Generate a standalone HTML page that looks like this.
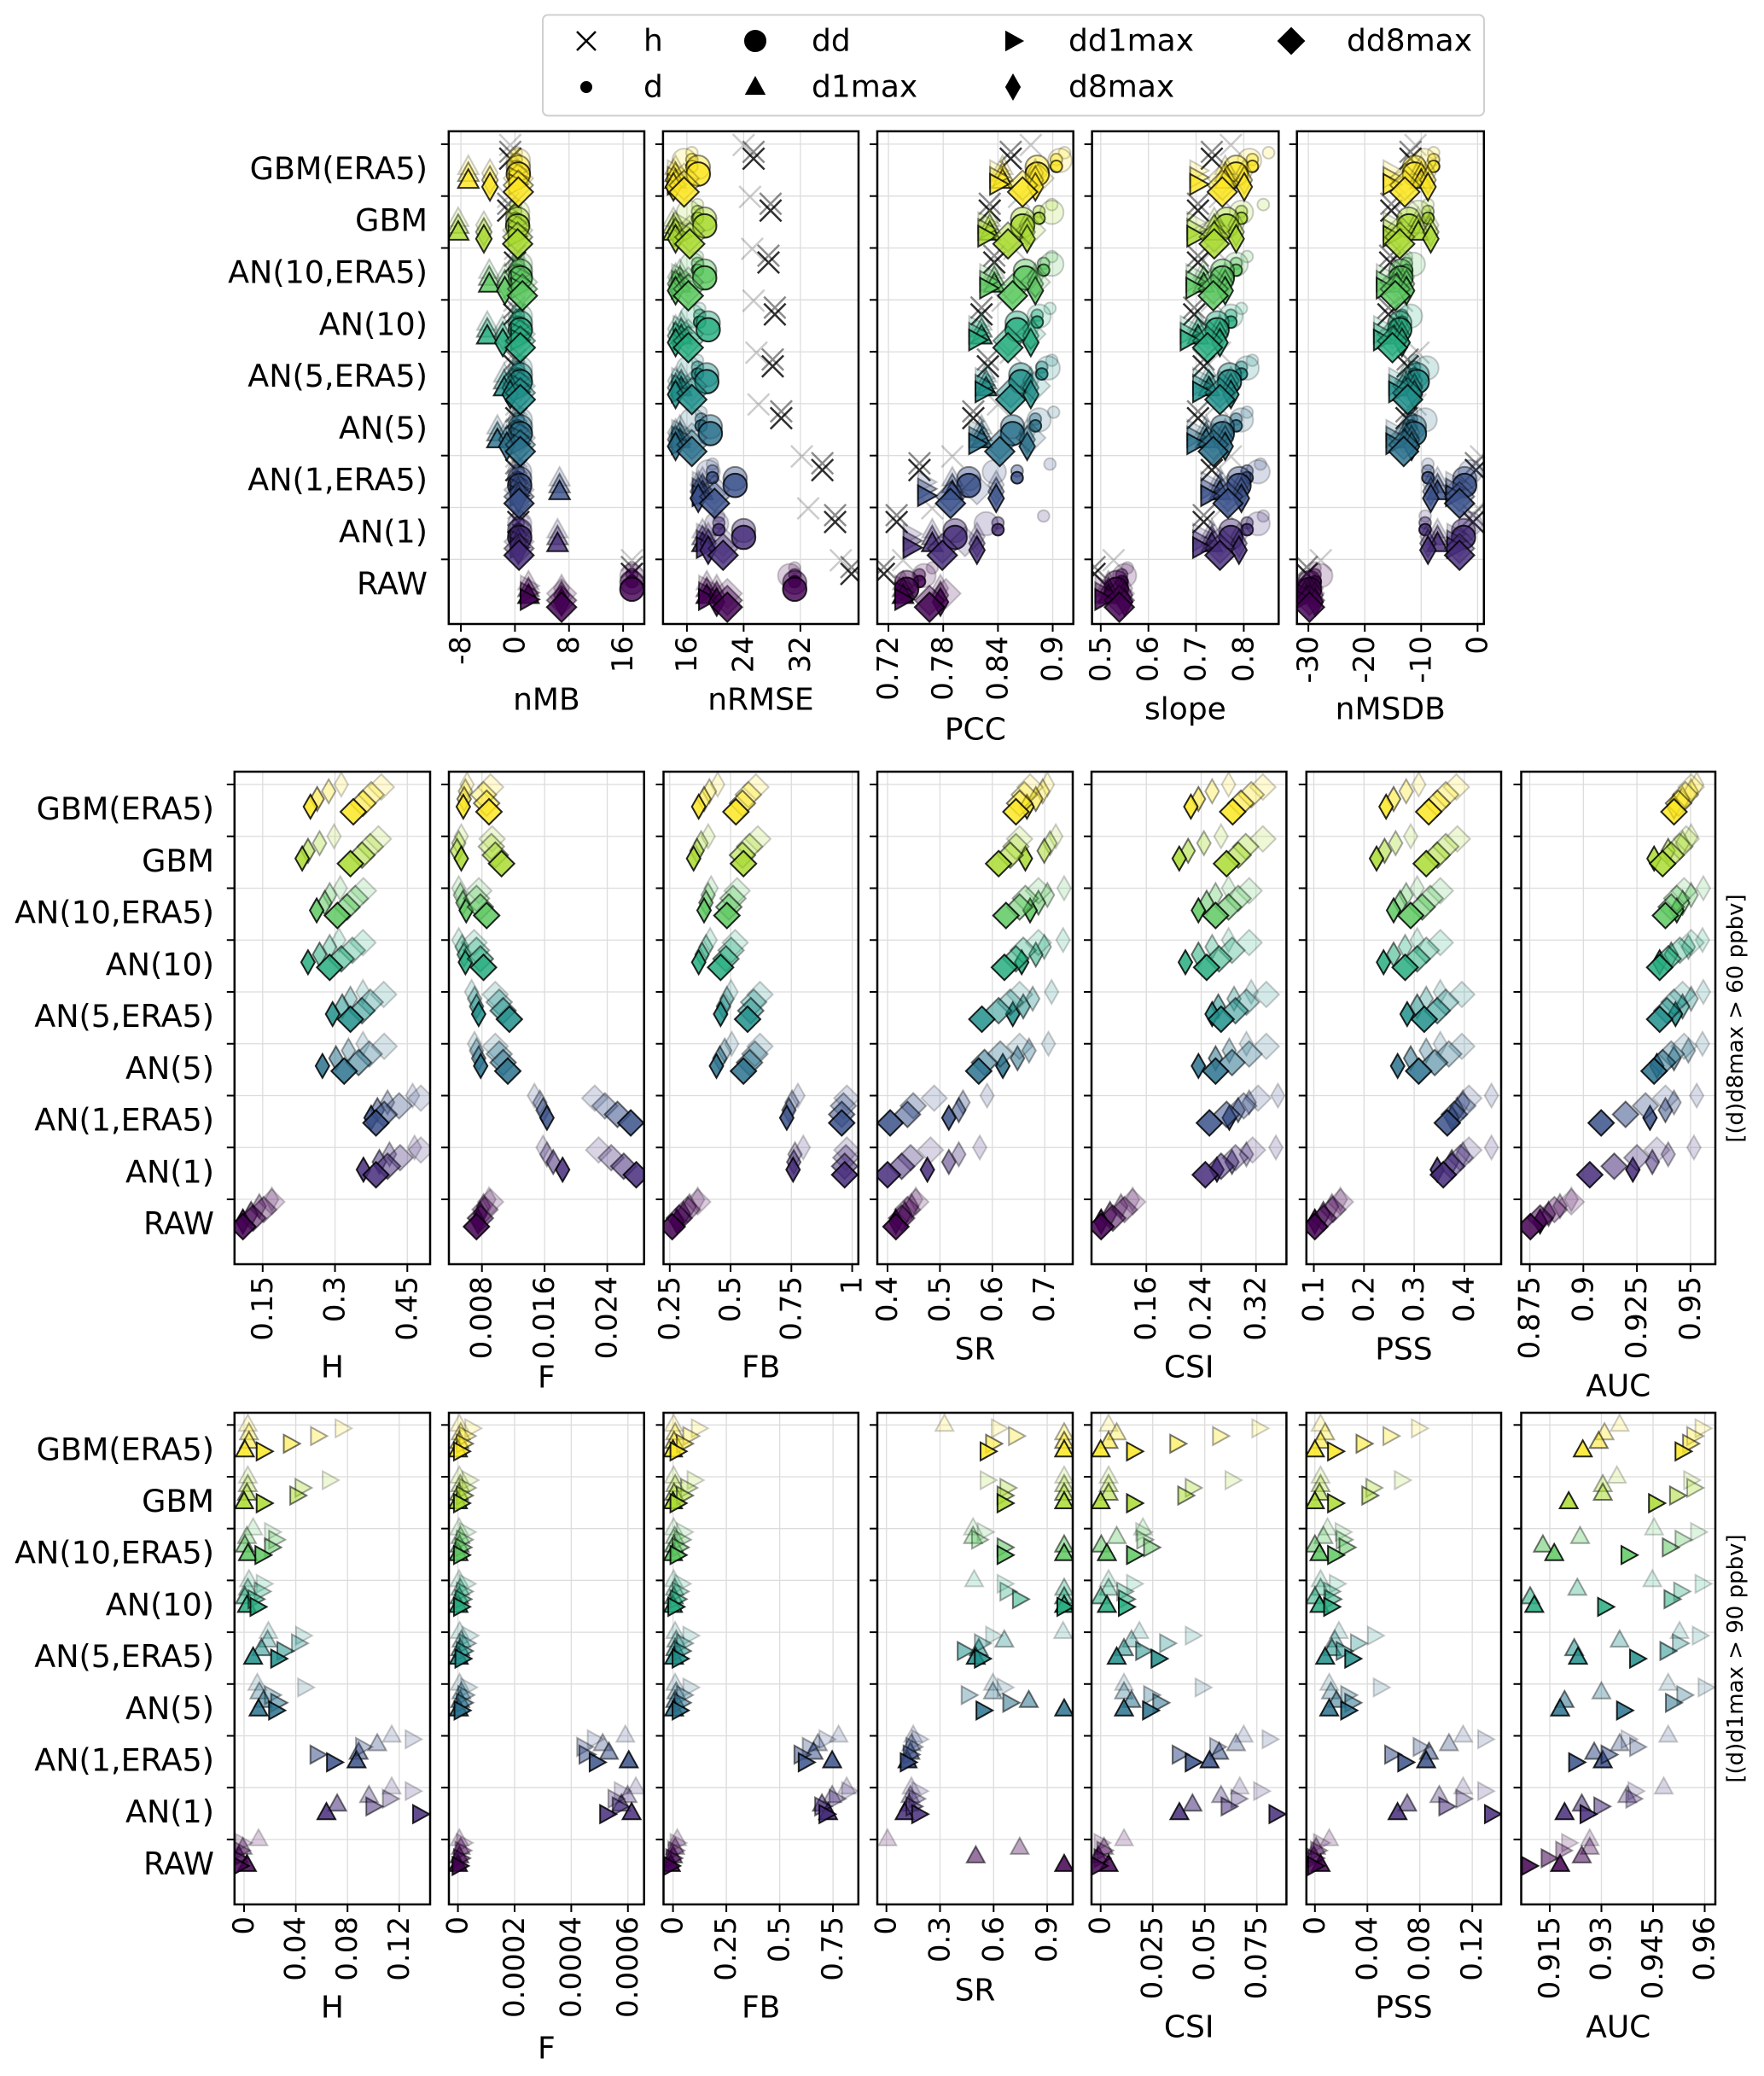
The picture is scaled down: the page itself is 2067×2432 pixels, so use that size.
<!DOCTYPE html>
<html><head><meta charset="utf-8"><title>Model evaluation metrics</title>
<style>
html,body{margin:0;padding:0;background:#fff;}
svg{display:block;font-family:"DejaVu Sans","Liberation Sans",sans-serif;}
</style></head>
<body>
<svg id="fig" xmlns="http://www.w3.org/2000/svg" width="2067" height="2432" viewBox="0 0 2067 2432"></svg>
<script>
const rows = ['GBM(ERA5)','GBM','AN(10,ERA5)','AN(10)','AN(5,ERA5)','AN(5)','AN(1,ERA5)','AN(1)','RAW'];
const rowColors = ['#fde725','#aadc32','#5ec962','#28ae80','#21918c','#2c728e','#3b528b','#472d7b','#440154'];

// ---- Row 1: continuous metrics (9 values per series, one per model) ----
const nMB_h = [-0.7,-1.0,0,-0.1,0,0.2,0.2,0.5,17.3];
const nMB_d = [0.2,0.1,0.5,0.5,0.5,0.5,0.5,0.5,17.3];
const nMB_dd = [0.5,0.4,0.8,0.8,0.8,0.8,0.7,0.7,17.3];
const nMB_d1max = [-6.9,-8.4,-3.8,-4.1,-1.6,-2.6,6.6,6.3,2.0];
const nMB_dd1max = [0.3,0.2,0.6,0.6,0.6,0.6,0.5,0.5,2.0];
const nMB_d8max = [-3.7,-4.6,-1.5,-1.8,-0.7,-1.2,0.5,0.5,6.9];
const nMB_dd8max = [0.5,0.4,1.1,0.8,0.8,0.8,0.6,0.6,6.9];

const nRMSE_h = [25.4,27.8,27.5,28.4,28.1,29.3,35.1,36.9,39.2];
const nRMSE_h_far = [24,24.9,25.2,25.4,25.8,26.1,32.2,33.1,37.7];
const nRMSE_d = [16.7,17.5,17.5,17.8,17.5,18,19.6,20.5,31.2];
const nRMSE_dd = [17.6,18.5,18.5,19.0,18.8,19.3,22.8,24.0,31.2];
const nRMSE_dd_far = [15.6,16.2,16.7,16.7,16.2,16.7,19.0,20.2,30.5];
const nRMSE_d1max = [14.4,14.1,15.0,15.2,15.2,15.0,18.2,18.2,18.8];
const nRMSE_dd1max = [14.4,15.2,15.0,15.2,15.0,15.0,17.9,18.5,18.8];
const nRMSE_d8max = [14.1,14.4,14.4,14.4,14.4,14.4,17.6,19.0,20.2];
const nRMSE_dd8max = [15.6,16.4,16.2,16.2,16.7,16.7,19.9,21.1,21.7];

const PCC_h = [0.854,0.831,0.836,0.822,0.829,0.813,0.754,0.729,0.715];
const PCC_h_far = [0.876,0.863,0.858,0.845,0.854,0.840,0.790,0.768,0.736];
const PCC_d = [0.904,0.885,0.890,0.883,0.888,0.881,0.861,0.840,0.754];
const PCC_d_far = [0.913,0.899,0.899,0.897,0.899,0.901,0.897,0.890,0.768];
const PCC_dd = [0.883,0.867,0.870,0.861,0.865,0.856,0.808,0.793,0.740];
const PCC_dd_far = [0.908,0.899,0.899,0.885,0.895,0.885,0.836,0.827,0.759];
const PCC_d1max = [0.845,0.831,0.836,0.822,0.827,0.822,0.790,0.768,0.736];
const PCC_dd1max = [0.840,0.827,0.829,0.817,0.824,0.817,0.761,0.745,0.736];
const PCC_d8max = [0.881,0.872,0.881,0.876,0.876,0.872,0.838,0.817,0.777];
const PCC_dd8max = [0.867,0.851,0.856,0.851,0.854,0.842,0.788,0.779,0.765];
const PCC_dd8max_far = [0.885,0.876,0.881,0.876,0.881,0.876,0.817,0.804,0.783];

const slope_h = [0.733,0.704,0.704,0.696,0.716,0.704,0.733,0.716,0.487];
const slope_h_far = [0.773,0.750,0.738,0.733,0.750,0.744,0.773,0.755,0.527];
const slope_d = [0.818,0.795,0.784,0.773,0.795,0.784,0.807,0.807,0.544];
const slope_d_far = [0.852,0.841,0.807,0.795,0.818,0.807,0.835,0.841,0.556];
const slope_dd = [0.784,0.764,0.755,0.744,0.770,0.755,0.790,0.773,0.533];
const slope_dd_far = [0.812,0.795,0.784,0.773,0.807,0.795,0.830,0.830,0.550];
const slope_d1max = [0.761,0.738,0.716,0.704,0.727,0.721,0.750,0.733,0.516];
const slope_dd1max = [0.704,0.698,0.696,0.684,0.710,0.698,0.727,0.710,0.505];
const slope_d8max = [0.801,0.784,0.761,0.750,0.773,0.761,0.795,0.790,0.550];
const slope_dd8max = [0.755,0.738,0.736,0.724,0.750,0.736,0.767,0.750,0.539];

const nMSDB_h = [-11.9,-15.3,-15.5,-15.8,-12.4,-12.6,-0.3,-0.8,-30.3];
const nMSDB_h_far = [-11.0,-12.4,-13.4,-13.4,-10.5,-11.0,0.6,0.1,-27.8];
const nMSDB_d = [-7.8,-8.8,-12.6,-13.4,-11.2,-11.7,-8.8,-9.3,-28.8];
const nMSDB_dd = [-11.2,-12.2,-13.6,-13.8,-10.7,-11.2,-2.3,-2.5,-29.8];
const nMSDB_dd_far = [-9.5,-10.5,-11.4,-11.9,-9.0,-9.3,-1.3,-1.3,-27.8];
const nMSDB_d1max = [-10.0,-10.5,-14.3,-14.8,-12.9,-12.9,-7.1,-7.1,-30.3];
const nMSDB_dd1max = [-15.3,-15.3,-16.5,-17.0,-14.3,-14.8,-4.2,-4.0,-31.2];
const nMSDB_d8max = [-8.8,-8.3,-12.6,-13.4,-11.2,-11.7,-8.3,-8.8,-28.8];
const nMSDB_dd8max = [-12.9,-13.8,-14.6,-15.1,-12.4,-13.1,-3.2,-3.2,-29.8];

// ---- Row 2: [(d)d8max > 60 ppbv] categorical scores, 4 variants per model ----
const H60_d8 = [[0.249,0.263,0.287,0.313],[0.232,0.244,0.268,0.298],[0.262,0.279,0.289,0.311],[0.244,0.268,0.289,0.308],[0.295,0.315,0.332,0.358],[0.274,0.302,0.328,0.358],[0.375,0.388,0.409,0.461],[0.359,0.392,0.413,0.465],[0.109,0.126,0.143,0.169]];
const H60_dd8 = [[0.338,0.358,0.375,0.396],[0.332,0.356,0.373,0.390],[0.305,0.325,0.342,0.359],[0.289,0.313,0.336,0.358],[0.332,0.356,0.373,0.401],[0.319,0.349,0.371,0.402],[0.385,0.402,0.433,0.478],[0.385,0.409,0.435,0.478],[0.109,0.130,0.152,0.169]];
const F60_d8 = [[0.00562,0.00573,0.00589,0.0061],[0.00536,0.00483,0.00504,0.00536],[0.00599,0.00557,0.00525,0.00504],[0.00589,0.00573,0.00546,0.00504],[0.00758,0.00731,0.00705,0.00668],[0.00784,0.00758,0.00731,0.00705],[0.0163,0.0158,0.0154,0.0147],[0.0183,0.0171,0.0163,0.0158],[0.0075,0.0078,0.0082,0.0089]];
const F60_dd8 = [[0.0089,0.0086,0.0082,0.0091],[0.0105,0.0097,0.0092,0.0093],[0.0086,0.0078,0.0073,0.0076],[0.0082,0.0078,0.0073,0.0070],[0.0115,0.0107,0.0102,0.0097],[0.0113,0.0107,0.0102,0.0097],[0.0270,0.0253,0.0237,0.0224],[0.0277,0.0261,0.0245,0.0229],[0.0073,0.0078,0.0084,0.0091]];
const FB60_d8 = [[0.369,0.391,0.413,0.447],[0.348,0.362,0.379,0.408],[0.391,0.399,0.408,0.420],[0.369,0.383,0.399,0.416],[0.459,0.471,0.485,0.502],[0.442,0.456,0.476,0.505],[0.731,0.740,0.753,0.777],[0.757,0.760,0.765,0.799],[0.280,0.306,0.331,0.365]];
const FB60_dd8 = [[0.522,0.549,0.573,0.604],[0.553,0.549,0.578,0.612],[0.485,0.493,0.510,0.527],[0.459,0.481,0.502,0.519],[0.570,0.583,0.595,0.621],[0.553,0.578,0.600,0.621],[0.957,0.957,0.964,0.978],[0.969,0.969,0.974,0.978],[0.260,0.289,0.323,0.365]];
const SR60_d8 = [[0.666,0.683,0.696,0.705],[0.663,0.699,0.710,0.721],[0.672,0.688,0.705,0.737],[0.656,0.683,0.699,0.735],[0.639,0.659,0.677,0.713],[0.620,0.648,0.670,0.707],[0.517,0.536,0.544,0.590],[0.476,0.517,0.536,0.576],[0.416,0.433,0.446,0.454]];
const SR60_dd8 = [[0.645,0.652,0.661,0.672],[0.612,0.634,0.645,0.652],[0.626,0.652,0.663,0.688],[0.623,0.645,0.659,0.688],[0.580,0.612,0.634,0.652],[0.574,0.585,0.615,0.652],[0.405,0.438,0.449,0.489],[0.400,0.427,0.444,0.482],[0.416,0.427,0.438,0.454]];
const CSI60_d8 = [[0.225,0.236,0.256,0.280],[0.208,0.221,0.244,0.269],[0.236,0.248,0.261,0.280],[0.217,0.236,0.256,0.280],[0.256,0.265,0.288,0.313],[0.236,0.261,0.281,0.306],[0.281,0.294,0.310,0.352],[0.263,0.285,0.306,0.349],[0.094,0.107,0.123,0.140]];
const CSI60_dd8 = [[0.286,0.298,0.313,0.330],[0.277,0.294,0.305,0.330],[0.261,0.280,0.294,0.310],[0.248,0.266,0.285,0.310],[0.269,0.290,0.306,0.335],[0.261,0.285,0.310,0.335],[0.252,0.277,0.302,0.323],[0.246,0.269,0.290,0.315],[0.094,0.111,0.128,0.140]];
const PSS60_d8 = [[0.244,0.259,0.284,0.309],[0.225,0.241,0.263,0.293],[0.259,0.272,0.284,0.306],[0.239,0.259,0.282,0.306],[0.286,0.306,0.324,0.352],[0.267,0.293,0.324,0.352],[0.375,0.386,0.397,0.454],[0.346,0.375,0.397,0.454],[0.102,0.119,0.136,0.153]];
const PSS60_dd8 = [[0.329,0.346,0.363,0.384],[0.324,0.346,0.363,0.386],[0.293,0.316,0.332,0.352],[0.282,0.306,0.324,0.352],[0.320,0.346,0.363,0.395],[0.309,0.341,0.369,0.395],[0.366,0.380,0.397,0.409],[0.358,0.375,0.392,0.409],[0.102,0.119,0.138,0.153]];
const AUC60_d8 = [[0.9423,0.9463,0.9503,0.9529],[0.933,0.9396,0.9463,0.9503],[0.9436,0.9463,0.9503,0.956],[0.9356,0.941,0.949,0.9556],[0.943,0.9463,0.9503,0.956],[0.9343,0.9423,0.949,0.9556],[0.9311,0.9383,0.9423,0.9529],[0.9231,0.9322,0.9396,0.9516],[0.8798,0.8838,0.8891,0.8944]];
const AUC60_dd8 = [[0.9423,0.9444,0.9476,0.9503],[0.937,0.941,0.945,0.948],[0.9383,0.941,0.9436,0.947],[0.9356,0.9396,0.945,0.9503],[0.9356,0.939,0.9423,0.9463],[0.933,0.937,0.941,0.947],[0.9083,0.9197,0.929,0.9383],[0.903,0.9144,0.925,0.9343],[0.8753,0.8798,0.8865,0.8944]];

// ---- Row 3: [(d)d1max > 90 ppbv] ----
const H90_d1 = [[0.0006,0.0038,0.0038,0.0029],[0,0.0022,0.0029,0.0029],[0.003,0.0006,0.0022,0.007],[0.0022,0.0006,0.0029,0.0038],[0.007,0.0134,0.0182,0.0188],[0.0112,0.015,0.0118,0.0102],[0.087,0.0886,0.103,0.1142],[0.0637,0.072,0.0966,0.1142],[0.0022,-0.004,-0.001,0.0112]];
const H90_dd1 = [[0.015,0.036,0.057,0.076],[0.015,0.041,0.045,0.066],[0.014,0.0214,0.0246,0.0214],[0.0102,0.0086,0.0134,0.015],[0.0262,0.031,0.0422,0.0454],[0.0246,0.0262,0.0214,0.047],[0.0694,0.0566,0.0918,0.1302],[0.136,0.0998,0.1126,0.1302],[-0.0035,-0.0048,-0.0026,-0.001]];
const F90_d1 = [[0,0.000005,0.00001,0.000005],[0,0.000004,0.000008,0.000005],[0.000002,0.000006,0.000009,0.000004],[0.000002,0.000005,0.000008,0.000004],[0.000003,0.000008,0.000012,0.000006],[0.000003,0.000008,0.000012,0.000006],[0.000603,0.000533,0.000511,0.000591],[0.000613,0.000577,0.000599,0.000628],[0,0.000005,0.00001,0.000005]];
const F90_dd1 = [[0.00001,0.00002,0.00003,0.00005],[0.00001,0.00002,0.00003,0.00004],[0.00001,0.000015,0.00002,0.00003],[0.00001,0.000015,0.00002,0.00003],[0.000015,0.00002,0.00003,0.00004],[0.000012,0.00002,0.000025,0.000035],[0.000489,0.000453,0.000445,0.000482],[0.000526,0.00057,0.000555,0.000577],[0.000005,0.00001,0.000015,0.00002]];
const FB90_d1 = [[0,0.005,0.01,0.003],[0,0.005,0.01,0.003],[0,0.004,0.008,0.003],[0,0.004,0.008,0.003],[0.005,0.01,0.015,0.01],[0.005,0.01,0.015,0.01],[0.746,0.659,0.679,0.776],[0.727,0.698,0.746,0.814],[-0.01,0,0.01,0.02]];
const FB90_dd1 = [[0.02,0.05,0.08,0.12],[0.02,0.05,0.07,0.1],[0.02,0.03,0.04,0.05],[0.01,0.02,0.03,0.04],[0.03,0.04,0.05,0.08],[0.03,0.04,0.05,0.08],[0.621,0.601,0.64,0.718],[0.718,0.698,0.766,0.824],[-0.01,0,0.01,0.02]];
const SR90_d1 = [[0.995,0.995,0.995,0.325],[0.995,0.995,0.995,0.995],[0.995,0.995,0.485,0.485],[0.995,0.995,0.995,0.491],[0.5,0.517,0.66,0.989],[0.995,0.797,0.596,0.596],[0.118,0.134,0.14,0.15],[0.102,0.127,0.134,0.14],[0.995,0.5,0.746,0.006]];
const SR90_dd1 = [[0.565,0.596,0.724,0.628],[0.66,0.66,0.676,0.565],[0.66,0.66,0.517,0.549],[0.995,0.746,0.676,0.66],[0.533,0.437,0.533,0.596],[0.542,0.692,0.459,0.66],[0.118,0.134,0.15,0.182],[0.182,0.15,0.166,0.182],[null,null,null,null]];
const CSI90_d1 = [[0,0.0038,0.0077,0.0038],[0,0.0038,0.0038,0.0038],[0.003,0.0003,0.0077,0.0203],[0.003,0,0.0038,0.0038],[0.0077,0.0112,0.0148,0.0186],[0.0112,0.0148,0.0112,0.0112],[0.0523,0.0569,0.065,0.0687],[0.0378,0.0441,0.0578,0.0668],[0.0038,-0.0011,0.0016,0.0112]];
const CSI90_dd1 = [[0.0159,0.0367,0.0572,0.0761],[0.0159,0.0405,0.0441,0.0632],[0.0159,0.0241,0.0208,0.0203],[0.012,0.012,0.0112,0.0159],[0.0277,0.0203,0.0318,0.0441],[0.0236,0.0285,0.0241,0.0488],[0.0441,0.0378,0.0558,0.081],[0.0843,0.0613,0.066,0.0769],[-0.0011,0.0003,0.0016,0.0003]];
const PSS90_d1 = [[0,0.0043,0.0078,0.0043],[0,0.0035,0.0043,0.0043],[0.0035,0,0.0065,0.0096],[0.0035,0,0.0043,0.0043],[0.0078,0.013,0.0152,0.0183],[0.0109,0.0165,0.0122,0.0109],[0.0848,0.087,0.1022,0.113],[0.063,0.0704,0.0948,0.113],[0.0043,-0.0009,0.0009,0.0109]];
const PSS90_dd1 = [[0.0152,0.0369,0.0574,0.0791],[0.0152,0.0413,0.0443,0.0661],[0.0152,0.0239,0.0217,0.0209],[0.0122,0.013,0.0122,0.0165],[0.0283,0.0217,0.0326,0.0456],[0.0252,0.0283,0.0252,0.05],[0.0687,0.0587,0.0804,0.1296],[0.1348,0.1,0.113,0.1296],[0,0,0.0022,0.0043]];
const AUC90_d1 = [[0.9246,0.9292,0.9309,0.9353],[0.9205,0.9304,0.9304,0.9345],[0.9163,0.913,0.9238,0.9453],[0.9105,0.9093,0.923,0.9448],[0.9232,0.9221,0.9353,0.9527],[0.918,0.9193,0.93,0.9494],[0.9304,0.9279,0.9353,0.9494],[0.9193,0.9243,0.9375,0.9481],[0.918,0.9243,0.9266,0.9266]];
const AUC90_dd1 = [[0.9535,0.9557,0.9569,0.9593],[0.9458,0.9519,0.9569,0.956],[0.9378,0.9498,0.9535,0.958],[0.931,0.9503,0.9531,0.9593],[0.9403,0.9491,0.9527,0.9585],[0.9365,0.9507,0.954,0.9602],[0.9226,0.932,0.9403,0.9378],[0.9259,0.9299,0.9392,0.9398],[0.9089,0.9146,0.9188,0.9205]];

// ---- tick arrays ----
const ticks_nMB=[-8,0,8,16], lab_nMB=['-8','0','8','16'];
const ticks_nRMSE=[16,24,32], lab_nRMSE=['16','24','32'];
const ticks_PCC=[0.72,0.78,0.84,0.9], lab_PCC=['0.72','0.78','0.84','0.9'];
const ticks_slope=[0.5,0.6,0.7,0.8], lab_slope=['0.5','0.6','0.7','0.8'];
const ticks_nMSDB=[-30,-20,-10,0], lab_nMSDB=['-30','-20','-10','0'];
const ticks_H60=[0.15,0.3,0.45], lab_H60=['0.15','0.3','0.45'];
const ticks_F60=[0.008,0.016,0.024], lab_F60=['0.008','0.016','0.024'];
const ticks_FB60=[0.25,0.5,0.75,1], lab_FB60=['0.25','0.5','0.75','1'];
const ticks_SR60=[0.4,0.5,0.6,0.7], lab_SR60=['0.4','0.5','0.6','0.7'];
const ticks_CSI60=[0.16,0.24,0.32], lab_CSI60=['0.16','0.24','0.32'];
const ticks_PSS60=[0.1,0.2,0.3,0.4], lab_PSS60=['0.1','0.2','0.3','0.4'];
const ticks_AUC60=[0.875,0.9,0.925,0.95], lab_AUC60=['0.875','0.9','0.925','0.95'];
const ticks_H90=[0,0.04,0.08,0.12], lab_H90=['0','0.04','0.08','0.12'];
const ticks_F90=[0,0.0002,0.0004,0.0006], lab_F90=['0','0.0002','0.0004','0.0006'];
const ticks_FB90=[0,0.25,0.5,0.75], lab_FB90=['0','0.25','0.5','0.75'];
const ticks_SR90=[0,0.3,0.6,0.9], lab_SR90=['0','0.3','0.6','0.9'];
const ticks_CSI90=[0,0.025,0.05,0.075], lab_CSI90=['0','0.025','0.05','0.075'];
const ticks_PSS90=[0,0.04,0.08,0.12], lab_PSS90=['0','0.04','0.08','0.12'];
const ticks_AUC90=[0.915,0.93,0.945,0.96], lab_AUC90=['0.915','0.93','0.945','0.96'];

const NS='http://www.w3.org/2000/svg';
const svg=document.getElementById('fig');
function mk(tag,attrs,parent){const e=document.createElementNS(NS,tag);for(const k in attrs)e.setAttribute(k,attrs[k]);(parent||svg).appendChild(e);return e;}

function markerEl(parent,type,cx,cy,fill,alpha,big){
  let e; const sw=2; const s=big?1.15:1;
  const common={fill:fill,'fill-opacity':alpha,stroke:'#000','stroke-opacity':alpha,'stroke-width':sw};
  if(type==='h'){
    const k=11*s;
    e=mk('path',{d:`M${cx-k},${cy-k}L${cx+k},${cy+k}M${cx-k},${cy+k}L${cx+k},${cy-k}`,stroke:'#000','stroke-opacity':alpha,'stroke-width':2.5,fill:'none'},parent);
  }else if(type==='d'){
    e=mk('circle',Object.assign({cx:cx,cy:cy,r:6*s},common),parent);
  }else if(type==='dd'){
    e=mk('circle',Object.assign({cx:cx,cy:cy,r:12*s},common),parent);
  }else if(type==='d1max'){
    e=mk('path',Object.assign({d:`M${cx},${cy-11*s}L${cx+10.5*s},${cy+8*s}L${cx-10.5*s},${cy+8*s}Z`},common),parent);
  }else if(type==='dd1max'){
    e=mk('path',Object.assign({d:`M${cx+11*s},${cy}L${cx-8*s},${cy+10.5*s}L${cx-8*s},${cy-10.5*s}Z`},common),parent);
  }else if(type==='d8max'){
    e=mk('path',Object.assign({d:`M${cx},${cy-14*s}L${cx+8*s},${cy}L${cx},${cy+14*s}L${cx-8*s},${cy}Z`},common),parent);
  }else{
    e=mk('path',Object.assign({d:`M${cx},${cy-15*s}L${cx+15*s},${cy}L${cx},${cy+15*s}L${cx-15*s},${cy}Z`},common),parent);
  }
  return e;
}

function makePanel(p){
  const g=mk('g',{});
  
  
  const sx=v=>p.x0+(v-p.d0)/(p.d1-p.d0)*(p.x1-p.x0);
  for(let i=0;i<9;i++){
    const y=p.tick0+i*p.step;
    const gl=mk('line',{x1:p.x0,x2:p.x1,y1:y,y2:y,stroke:'#dcdcdc','stroke-width':1.3},g);
    
    
    const tk=mk('line',{x1:p.x0-9,x2:p.x0,y1:y,y2:y,stroke:'#000','stroke-width':2},g);
    
    
  }
  p.ticks.forEach((t,i)=>{
    const x=sx(t);
    const gl=mk('line',{x1:x,x2:x,y1:p.y0,y2:p.y1,stroke:'#dcdcdc','stroke-width':1.3},g);
    
    
    const tk=mk('line',{x1:x,x2:x,y1:p.y1,y2:p.y1+9,stroke:'#000','stroke-width':2},g);
    
    
    const tl=mk('text',{x:x,y:p.y1+14,transform:`rotate(-90 ${x} ${p.y1+14})`,'text-anchor':'end','dominant-baseline':'central','font-size':34,fill:'#000'},g);
    tl.textContent=p.labels[i];
    
    
  });
  const mg=mk('g',{'clip-path':`url(#clip-${p.name})`},g);
  const cp=mk('clipPath',{id:'clip-'+p.name},g);
  mk('rect',{x:p.x0,y:p.y0,width:p.x1-p.x0,height:p.y1-p.y0},cp);
  p.series.forEach(s=>{
    for(let r=0;r<9;r++){
      const base=p.tick0+r*p.step;
      s.levels.forEach(L=>{
        const v=L.src[r];
        const val=Array.isArray(v)?v[L.idx]:v;
        if(val===null||val===undefined)return;
        const m=markerEl(mg,s.type,sx(val),base+L.dy,rowColors[r],L.a,p.big);
        
        
      });
    }
  });
  const fr=mk('rect',{x:p.x0,y:p.y0,width:p.x1-p.x0,height:p.y1-p.y0,fill:'none',stroke:'#000','stroke-width':2.5},g);
  
  
  const tt=mk('text',{x:(p.x0+p.x1)/2,y:p.ty,'text-anchor':'middle','dominant-baseline':'central','font-size':36,fill:'#000'},g);
  tt.textContent=p.title;
  
  
}

function r1(type,main,far,dy){
  const lv=[];
  if(far){lv.push({src:far,a:0.2,dy:dy-16});lv.push({src:main,a:0.45,dy:dy-8});}
  else{lv.push({src:main,a:0.2,dy:dy-16});lv.push({src:main,a:0.45,dy:dy-8});}
  lv.push({src:main,a:0.82,dy:dy});
  return {type:type,levels:lv};
}
function chain(type,arr,dys){
  const al=[0.85,0.55,0.35,0.2];
  return {type:type,levels:[3,2,1,0].map(i=>({src:arr,idx:i,a:al[i],dy:dys[i]}))};
}

const R1={y0:153.8,y1:731,tick0:168.9,step:60.8,big:true};
const R2={y0:904,y1:1481,tick0:919,step:60.75};
const R3={y0:1655,y1:2231,tick0:1669.3,step:60.7};
const C2=[[274.8,504],[526,754.7],[777.5,1005.8],[1028,1257],[1279,1507.4],[1530.8,1759],[1782.5,2010]];

function row1Series(h,hf,d,df,dd,ddf,d1,dd1,d8,dd8,dd8f){
  return [r1('h',h,hf,17),r1('d',d,df,26),r1('dd',dd,ddf,35),r1('d1max',d1,null,42),r1('dd1max',dd1,null,47),r1('d8max',d8,null,50),r1('dd8max',dd8,dd8f,56)];
}
const panels1=[
  {name:'nMB',title:'nMB',x0:525.8,x1:755,d0:-9.8,d1:19.14,ticks:ticks_nMB,labels:lab_nMB,ty:820,series:row1Series(nMB_h,null,nMB_d,null,nMB_dd,null,nMB_d1max,nMB_dd1max,nMB_d8max,nMB_dd8max,null)},
  {name:'nRMSE',title:'nRMSE',x0:776.9,x1:1006,d0:12.63,d1:40.2,ticks:ticks_nRMSE,labels:lab_nRMSE,ty:820,series:row1Series(nRMSE_h,nRMSE_h_far,nRMSE_d,null,nRMSE_dd,nRMSE_dd_far,nRMSE_d1max,nRMSE_dd1max,nRMSE_d8max,nRMSE_dd8max,null)},
  {name:'PCC',title:'PCC',x0:1028,x1:1257.7,d0:0.7078,d1:0.9226,ticks:ticks_PCC,labels:lab_PCC,ty:855,series:row1Series(PCC_h,PCC_h_far,PCC_d,PCC_d_far,PCC_dd,PCC_dd_far,PCC_d1max,PCC_dd1max,PCC_d8max,PCC_dd8max,PCC_dd8max_far)},
  {name:'slope',title:'slope',x0:1279.6,x1:1498.3,d0:0.4817,d1:0.8732,ticks:ticks_slope,labels:lab_slope,ty:831,series:row1Series(slope_h,slope_h_far,slope_d,slope_d_far,slope_dd,slope_dd_far,slope_d1max,slope_dd1max,slope_d8max,slope_dd8max,null)},
  {name:'nMSDB',title:'nMSDB',x0:1519.7,x1:1738.8,d0:-32.03,d1:1.12,ticks:ticks_nMSDB,labels:lab_nMSDB,ty:831,series:row1Series(nMSDB_h,nMSDB_h_far,nMSDB_d,null,nMSDB_dd,nMSDB_dd_far,nMSDB_d1max,nMSDB_dd1max,nMSDB_d8max,nMSDB_dd8max,null)}
];
panels1.forEach(p=>makePanel(Object.assign({},R1,p)));

const dyD8=[26,17,8,0], dyDD8=[32,22,12,3];
const panels2=[
  {name:'H60',title:'H',d0:0.0916,d1:0.4973,ticks:ticks_H60,labels:lab_H60,ty:1602,a:H60_d8,b:H60_dd8},
  {name:'F60',title:'F',d0:0.00378,d1:0.0287,ticks:ticks_F60,labels:lab_F60,ty:1614,a:F60_d8,b:F60_dd8},
  {name:'FB60',title:'FB',d0:0.2244,d1:1.0254,ticks:ticks_FB60,labels:lab_FB60,ty:1602,a:FB60_d8,b:FB60_dd8},
  {name:'SR60',title:'SR',d0:0.3805,d1:0.7534,ticks:ticks_SR60,labels:lab_SR60,ty:1581,a:SR60_d8,b:SR60_dd8},
  {name:'CSI60',title:'CSI',d0:0.080,d1:0.3644,ticks:ticks_CSI60,labels:lab_CSI60,ty:1602,a:CSI60_d8,b:CSI60_dd8},
  {name:'PSS60',title:'PSS',d0:0.0852,d1:0.4733,ticks:ticks_PSS60,labels:lab_PSS60,ty:1581,a:PSS60_d8,b:PSS60_dd8},
  {name:'AUC60',title:'AUC',d0:0.871,d1:0.9616,ticks:ticks_AUC60,labels:lab_AUC60,ty:1624,a:AUC60_d8,b:AUC60_dd8}
];
panels2.forEach((p,i)=>makePanel(Object.assign({},R2,p,{x0:C2[i][0],x1:C2[i][1],series:[chain('d8max',p.a,dyD8),chain('dd8max',p.b,dyDD8)]})));

const dyT=[29,19,9,-1], dyR=[31,22,13,4];
const panels3=[
  {name:'H90',title:'H',d0:-0.0074,d1:0.1439,ticks:ticks_H90,labels:lab_H90,ty:2352,a:H90_d1,b:H90_dd1},
  {name:'F90',title:'F',d0:-0.0000319,d1:0.000657,ticks:ticks_F90,labels:lab_F90,ty:2400,a:F90_d1,b:F90_dd1},
  {name:'FB90',title:'FB',d0:-0.0444,d1:0.8688,ticks:ticks_FB90,labels:lab_FB90,ty:2352,a:FB90_d1,b:FB90_dd1},
  {name:'SR90',title:'SR',d0:-0.0511,d1:1.043,ticks:ticks_SR90,labels:lab_SR90,ty:2332,a:SR90_d1,b:SR90_dd1},
  {name:'CSI90',title:'CSI',d0:-0.00439,d1:0.0892,ticks:ticks_CSI90,labels:lab_CSI90,ty:2375,a:CSI90_d1,b:CSI90_dd1},
  {name:'PSS90',title:'PSS',d0:-0.0065,d1:0.142,ticks:ticks_PSS90,labels:lab_PSS90,ty:2352,a:PSS90_d1,b:PSS90_dd1},
  {name:'AUC90',title:'AUC',d0:0.9067,d1:0.9631,ticks:ticks_AUC90,labels:lab_AUC90,ty:2375,a:AUC90_d1,b:AUC90_dd1}
];
panels3.forEach((p,i)=>makePanel(Object.assign({},R3,p,{x0:C2[i][0],x1:C2[i][1],series:[chain('d1max',p.a,dyT),chain('dd1max',p.b,dyR)]})));

function rowLabels(R,xr){
  rows.forEach((r,i)=>{
    const t=mk('text',{x:xr,y:R.tick0+i*R.step+28.5,'text-anchor':'end','dominant-baseline':'central','font-size':36.5,fill:'#000'});
    t.textContent=r;
    
    
  });
}
rowLabels(R1,501); rowLabels(R2,251); rowLabels(R3,251);

[['[(d)d8max > 60 ppbv]',1193],['[(d)d1max > 90 ppbv]',1943]].forEach(([s,y])=>{
  const t=mk('text',{x:2034,y:y,transform:`rotate(-90 2034 ${y})`,'text-anchor':'middle','dominant-baseline':'central','font-size':26,fill:'#000'});
  t.textContent=s;
  
  
});

const lg=mk('g',{});


mk('rect',{x:636,y:17.5,width:1103,height:118,rx:6,fill:'#fff',stroke:'#d0d0d0','stroke-width':2},lg);
const legendItems=[['h',687,48,754,'h'],['d',687,102,754,'d'],['dd',885,48,951,'dd'],['d1max',885,102,951,'d1max'],['dd1max',1187,48,1252,'dd1max'],['d8max',1187,102,1252,'d8max'],['dd8max',1513,48,1578,'dd8max']];
legendItems.forEach(([t,mx,my,tx,lab])=>{
  const eg=mk('g',{},lg);
  
  
  markerEl(eg,t,mx,my,'#000',1,false);
  const tt=mk('text',{x:tx,y:my,'dominant-baseline':'central','font-size':36,fill:'#000'},eg);
  tt.textContent=lab;
});
</script>
</body></html>
